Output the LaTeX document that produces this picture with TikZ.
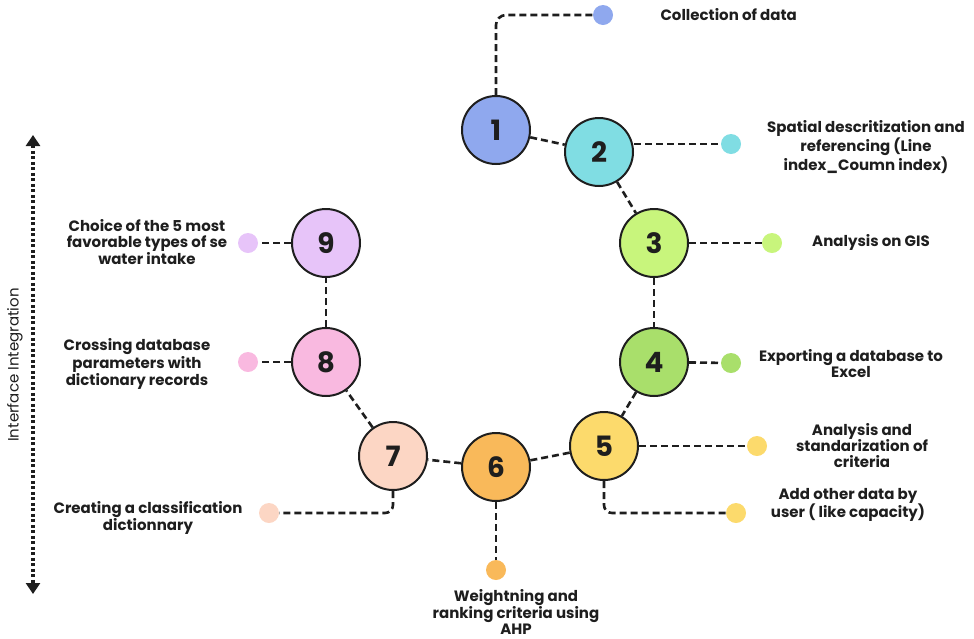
\documentclass[tikz,border=0pt]{standalone}
\usepackage{fontspec}
\setmainfont{Poppins}
\usetikzlibrary{arrows.meta}

\definecolor{cOne}{HTML}{8FA8EE}
\definecolor{cTwo}{HTML}{80DDE3}
\definecolor{cThree}{HTML}{C8F57C}
\definecolor{cFour}{HTML}{A9DF6B}
\definecolor{cFive}{HTML}{FCDA6C}
\definecolor{cSix}{HTML}{F9B95A}
\definecolor{cSeven}{HTML}{FCD6C4}
\definecolor{cEight}{HTML}{F9B9E0}
\definecolor{cNine}{HTML}{E7C4F9}
\definecolor{ink}{HTML}{1E1E1E}

\tikzset{
    stepcirc/.style={circle, draw=ink, line width=2pt, minimum size=68pt,
        inner sep=0pt, font=\fontsize{28}{28}\selectfont\bfseries, text=ink},
    tipdot/.style={circle, minimum size=20pt, inner sep=0pt},
    link/.style={draw=ink, line width=2.6pt, dash pattern=on 7pt off 4pt},
    lbl/.style={align=center, font=\fontsize{15}{16}\selectfont\bfseries, text=ink},
}

\begin{document}
\begin{tikzpicture}[x=1pt,y=-1pt]
\useasboundingbox (0,0) rectangle (974,638);

% steps
\node[stepcirc, fill=cOne] (s1) at (496,130) {1};
\node[stepcirc, fill=cTwo] (s2) at (599,152) {2};
\node[stepcirc, fill=cThree] (s3) at (654,243) {3};
\node[stepcirc, fill=cFour] (s4) at (654,362) {4};
\node[stepcirc, fill=cFive] (s5) at (604,446) {5};
\node[stepcirc, fill=cSix] (s6) at (496,467) {6};
\node[stepcirc, fill=cSeven] (s7) at (393,456) {7};
\node[stepcirc, fill=cEight] (s8) at (326,362) {8};
\node[stepcirc, fill=cNine] (s9) at (326,243) {9};

\draw[link] (s1) -- (s2);
\draw[link] (s2) -- (s3);
\draw[link] (s3) -- (s4);
\draw[link] (s4) -- (s5);
\draw[link] (s5) -- (s6);
\draw[link] (s6) -- (s7);
\draw[link] (s7) -- (s8);
\draw[link] (s8) -- (s9);

% dots
\node[tipdot, fill=cOne] (d1) at (603,15) {};
\node[tipdot, fill=cTwo] (d2) at (731,144) {};
\node[tipdot, fill=cThree] (d3) at (772,243) {};
\node[tipdot, fill=cFour] (d4) at (731,363) {};
\node[tipdot, fill=cFive] (d5) at (757,446) {};
\node[tipdot, fill=cFive] (d5b) at (736,513) {};
\node[tipdot, fill=cSix] (d6) at (496,570) {};
\node[tipdot, fill=cSeven] (d7) at (269,513) {};
\node[tipdot, fill=cEight] (d8) at (248,362) {};
\node[tipdot, fill=cNine] (d9) at (248,243) {};

\draw[link, rounded corners=10pt] (s1) |- (d1);
\draw[link] (s2.east |- d2) -- (d2);
\draw[link] (s3) -- (d3);
\draw[link] (s4) -- (d4);
\draw[link] (s5) -- (d5);
\draw[link, rounded corners=8pt] (s5) |- (d5b);
\draw[link] (s6) -- (d6);
\draw[link, rounded corners=8pt] (s7) |- (d7);
\draw[link] (s8) -- (d8);
\draw[link] (s9) -- (d9);

% labels
\node[lbl, anchor=west] (t1) at (657,15) {Collection of data};
\node[lbl] (t2) at (866,147) {Spatial descritization and\\referencing (Line\\index\_Coumn index)};
\node[lbl] (t3) at (871,242) {Analysis on GIS};
\node[lbl] (t4) at (851,364) {Exporting a database to\\Excel};
\node[lbl] (t5) at (862,446) {Analysis and\\standarization of\\criteria};
\node[lbl] (t5b) at (848,505) {Add other data by\\user ( like capacity)};
\node[lbl] (t6) at (516,612) {Weightning and\\ranking criteria using\\AHP};
\node[lbl] (t7) at (148,518) {Creating a classification\\dictionnary};
\node[lbl] (t8) at (137,364) {Crossing database\\parameters with\\dictionary records};
\node[lbl] (t9) at (147,242) {Choice of the 5 most\\favorable types of se\\water intake};

% side arrow
\coordinate (top) at (33,135);
\coordinate (bot) at (33,594);
\draw[ink, line width=3.5pt, dash pattern=on 3pt off 2.5pt,
    {Triangle[width=14pt,length=11pt]}-{Triangle[width=14pt,length=11pt]}] (top) -- (bot);
\node[rotate=90, font=\fontsize{15}{15}\selectfont, text=ink] (side) at (15,365) {Interface Integration};

\end{tikzpicture}
\end{document}
